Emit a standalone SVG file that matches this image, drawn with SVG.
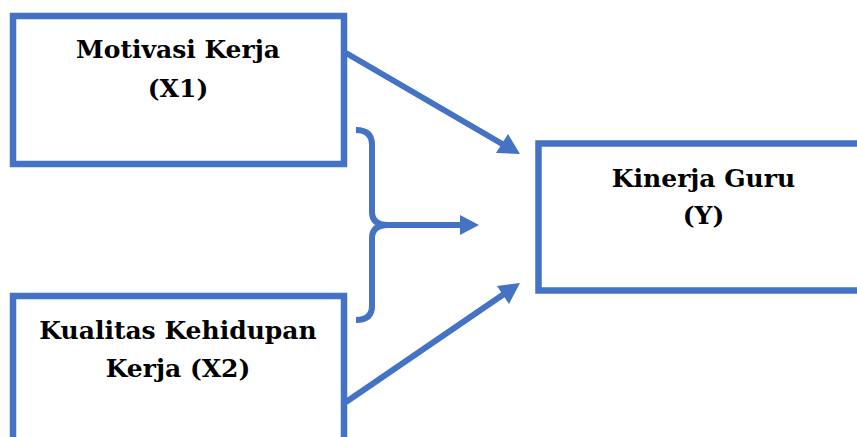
<svg xmlns="http://www.w3.org/2000/svg" width="857" height="437" viewBox="0 0 857 437">
  <style>
    .box { fill: #ffffff; stroke: #4472C4; stroke-width: 6.5; }
    .link { fill: none; stroke: #4472C4; stroke-width: 6; }
    .head { fill: #4472C4; }
    .label { font-family: "DejaVu Serif", "Liberation Serif", serif; font-weight: bold; font-size: 25px; fill: #000000; text-anchor: middle; }
  </style>
  <rect x="0" y="0" width="857" height="437" fill="#ffffff"/>

  <g id="node-x1">
    <rect class="box" x="13" y="16" width="331" height="148"/>
    <text class="label" x="178" y="58">Motivasi Kerja</text>
    <text class="label" x="178" y="97">(X1)</text>
  </g>

  <g id="node-x2">
    <rect class="box" x="13" y="296" width="331" height="160"/>
    <text class="label" x="178" y="339">Kualitas Kehidupan</text>
    <text class="label" x="178" y="377">Kerja (X2)</text>
  </g>

  <g id="node-y">
    <rect class="box" x="538.5" y="143.5" width="330" height="147"/>
    <text class="label" x="703.5" y="187">Kinerja Guru</text>
    <text class="label" x="703.5" y="224">(Y)</text>
  </g>

  <g id="connectors">
    <!-- X1 to Y -->
    <line class="link" x1="346" y1="53" x2="504" y2="145"/>
    <polygon class="head" points="520,154 496,153 508,134"/>
    <!-- X2 to Y -->
    <line class="link" x1="346" y1="402" x2="504" y2="294"/>
    <polygon class="head" points="520,283 509,304 497,286"/>
    <!-- brace joining X1 and X2 -->
    <path class="link" d="M356,130 Q372,130 372,145 L372,212 Q372,225 388,225 Q372,225 372,238 L372,306 Q372,320 356,320"/>
    <line class="link" x1="386" y1="225" x2="462" y2="225"/>
    <polygon class="head" points="479,225 460,215 460,235"/>
  </g>
</svg>
